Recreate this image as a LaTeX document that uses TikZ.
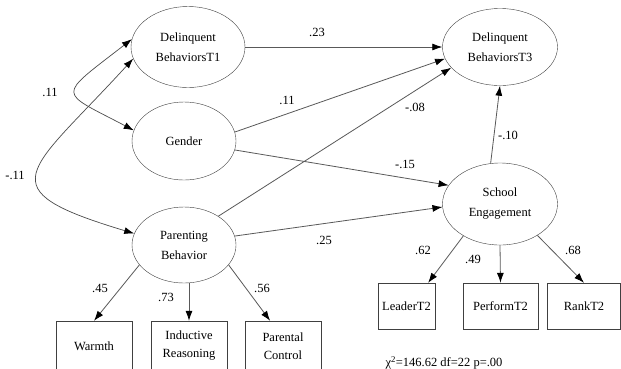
\documentclass[tikz,border=0pt]{standalone}
\usepackage{fontspec}
\setmainfont{Liberation Serif}
\usetikzlibrary{arrows.meta,shapes.geometric}

\tikzset{
  latent/.style={draw=black!75, ellipse, inner sep=0pt, align=center, font=\fontsize{12.5}{20}\selectfont},
  observed/.style={draw=black!75, rectangle, inner sep=0pt, align=center, font=\fontsize{12.5}{18}\selectfont},
  effect/.style={draw=black!65, line width=0.8pt, -{Latex[length=10pt,width=7pt,color=black]}},
  cov/.style={draw=black!70, line width=0.7pt, {Latex[length=10pt,width=7pt,color=black]}-{Latex[length=10pt,width=7pt,color=black]}},
  coef/.style={font=\fontsize{12.5}{14}\selectfont, inner sep=0pt}
}

\begin{document}
\begin{tikzpicture}[x=1pt,y=-1pt]
\useasboundingbox (0,0) rectangle (621,368);
\fill[white] (0,0) rectangle (621,368);

\node[latent, minimum width=114pt, minimum height=81pt] (db1) at (188,47) {Delinquent\\BehaviorsT1};
\node[latent, minimum width=104pt, minimum height=78pt] (gen) at (184,141) {Gender};
\node[latent, minimum width=104pt, minimum height=76pt] (pb) at (184,245) {Parenting\\Behavior};
\node[latent, minimum width=115pt, minimum height=77pt] (db3) at (500,47) {Delinquent\\BehaviorsT3};
\node[latent, minimum width=115pt, minimum height=82pt] (se) at (500,204) {School\\Engagement};

\node[observed, minimum width=76pt, minimum height=50pt] (warm) at (94,346) {Warmth};
\node[observed, minimum width=76pt, minimum height=50pt] (ind) at (189,346) {Inductive\\Reasoning};
\node[observed, minimum width=76pt, minimum height=50pt] (par) at (283,346) {Parental\\Control};
\node[observed, minimum width=57pt, minimum height=46pt] (lead) at (406.5,306) {LeaderT2};
\node[observed, minimum width=75pt, minimum height=46pt] (perf) at (500.5,306) {PerformT2};
\node[observed, minimum width=73pt, minimum height=46pt] (rank) at (584,306) {RankT2};

\draw[effect] (db1) -- (db3);
\draw[effect] (gen.10) -- (db3.192);
\draw[effect] (pb.40) -- (db3.203);
\draw[effect] (gen.350) -- (se.160);
\draw[effect] (pb.10) -- (se.183);
\draw[effect] (se.103) -- (db3.270);

\draw[effect] (pb.204) -- (warm.north);
\draw[effect] (pb.south -| ind.north) -- (ind.north);
\draw[effect] (pb.336) -- (par.117);
\draw[effect] (se.221) -- (lead.47);
\draw[effect] (se.south) -- (perf.north);
\draw[effect] (se.320) -- (rank.north);

\draw[cov] (db1.172) .. controls +(-76,59) and +(-76,-40) .. (gen.168);
\draw[cov] (db1.192) .. controls +(-105,115) and +(-150,-45) .. (pb.167);

\node[coef] (c23) at (317,32) {.23};
\node[coef] (c11a) at (287,100) {.11};
\node[coef] (c11b) at (50,92) {.11};
\node[coef] (c11c) at (15,175) {-.11};
\node[coef] (c08) at (415,107) {-.08};
\node[coef] (c15) at (405,164) {-.15};
\node[coef] (c10) at (508,135) {-.10};
\node[coef] (c25) at (324,240) {.25};
\node[coef] (c62) at (423,250) {.62};
\node[coef] (c49) at (473,259) {.49};
\node[coef] (c68) at (573,250) {.68};
\node[coef] (c45) at (100,288) {.45};
\node[coef] (c73) at (166,297) {.73};
\node[coef] (c56) at (262,288) {.56};

\node[coef] (fit) at (444,363) {χ\textsuperscript{2}=146.62 df=22 p=.00};
\end{tikzpicture}
\end{document}
